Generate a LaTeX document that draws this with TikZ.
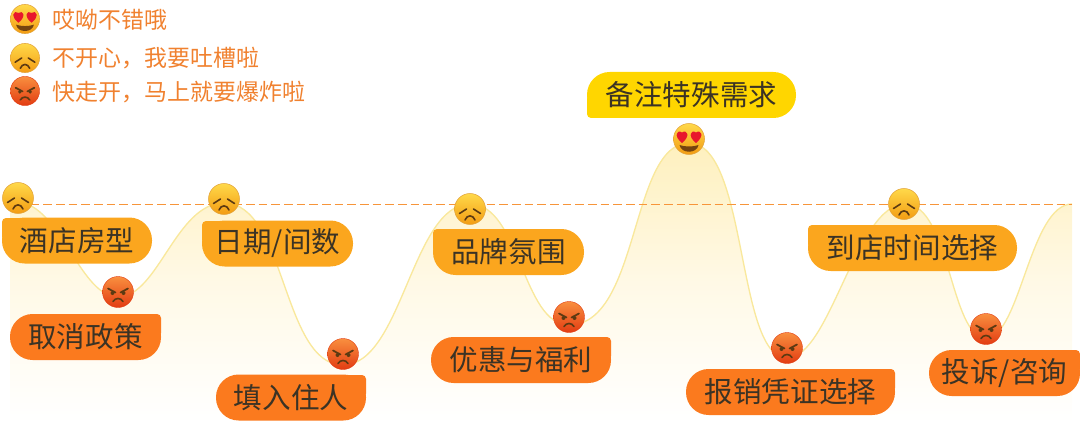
\documentclass[tikz,border=0pt]{standalone}
\usepackage{fontspec}
\setmainfont{Noto Sans CJK SC}
\usepackage{xcolor}

\definecolor{tagamber}{HTML}{FBA61E}
\definecolor{tagorange}{HTML}{FB7A1E}
\definecolor{tagyellow}{HTML}{FFD600}
\definecolor{tagtext}{HTML}{3B3325}
\definecolor{legendtext}{HTML}{F0812F}
\definecolor{hillline}{HTML}{F9E89C}
\definecolor{hilltop}{HTML}{FEF0BE}
\definecolor{hillmid}{HTML}{FFF9E6}
\definecolor{dashline}{HTML}{F7953A}
\definecolor{facebrown}{HTML}{5C3A12}
\definecolor{faceglow}{HTML}{FFD94A}
\definecolor{facegold}{HTML}{F39C12}
\definecolor{faceedge}{HTML}{E2A33A}
\definecolor{angrytop}{HTML}{F98F3F}
\definecolor{angrylow}{HTML}{E23C12}
\definecolor{heartred}{HTML}{E8172C}

\tikzset{
    tagnode/.style={inner sep=0pt,rounded corners=17pt,minimum height=34.5pt,text=tagtext,font=\fontsize{21.4}{24}\selectfont},
    legendnode/.style={anchor=west,inner sep=0pt,text=legendtext,font=\fontsize{17.2}{20}\selectfont},
    yellowface/.style={draw=faceedge,line width=0.4pt,top color=faceglow,bottom color=facegold},
    faceline/.style={draw=facebrown,line width=1.2pt,line cap=round},
    facesad/.pic={
        \path[yellowface] (0,0) circle (15.5);
        \draw[faceline] (-10.5,4.5) -- (-3.5,0);
        \draw[faceline] (10.5,4.5) -- (3.5,0);
        \draw[faceline] (-5,11) .. controls (-3,5.5) and (3,5.5) .. (5,11);
    },
    faceangry/.pic={
        \path[draw=angrylow,line width=0.3pt,top color=angrytop,bottom color=angrylow] (0,0) circle (15.5);
        \draw[faceline,line width=1.3pt] (-10,-3.5) -- (-2.5,0.5);
        \draw[faceline,line width=1.3pt] (10,-3.5) -- (2.5,0.5);
        \fill[facebrown] (-5.5,1) circle (2);
        \fill[facebrown] (5.5,1) circle (2);
        \draw[faceline,line width=1.2pt] (-5,9.5) .. controls (-3,5.5) and (3,5.5) .. (5,9.5);
    },
    facehappy/.pic={
        \path[yellowface] (0,0) circle (15.5);
        \fill[heartred] (-7,4) .. controls (-16,-3) and (-12,-10) .. (-7,-6.5) .. controls (-2,-10) and (2,-3) .. (-7,4) -- cycle;
        \fill[heartred] (7,4) .. controls (-2,-3) and (2,-10) .. (7,-6.5) .. controls (12,-10) and (16,-3) .. (7,4) -- cycle;
        \fill[facebrown!85!orange] (-9.5,6) .. controls (-5,8) and (5,8) .. (9.5,6) .. controls (8,15) and (-8,15) .. (-9.5,6) -- cycle;
    }
}

% name, centre, width, colour, square corner, text
\newcommand{\tagbox}[6]{
    \fill[#4,rounded corners=3pt,shift={(#2)}] (0,0) rectangle (#5);
    \node[tagnode,fill=#4,minimum width=#3*0.75pt] (#1) at (#2) {#6};
}

\newcommand{\hillcurve}{(10,204) .. controls (16,203) and (24,202) .. (33,207)
    .. controls (65,226) and (85,297) .. (118,297)
    .. controls (158,297) and (176,203) .. (224,203)
    .. controls (286,203) and (282,365) .. (343,365)
    .. controls (402,365) and (412,204) .. (470,204)
    .. controls (520,204) and (522,325) .. (569,325)
    .. controls (640,325) and (630,143) .. (689,143)
    .. controls (748,143) and (736,358) .. (787,358)
    .. controls (830,358) and (856,204) .. (905,204)
    .. controls (950,204) and (950,338) .. (986,338)
    .. controls (1020,338) and (1030,204) .. (1072,204)}

\begin{document}
\begin{tikzpicture}[x=0.75pt,y=-0.75pt]
    \useasboundingbox (0,0) rectangle (1080,431);
    % hill
    \shade[top color=hilltop,bottom color=white,middle color=hillmid] \hillcurve -- (1072,422) -- (10,422) -- cycle;
    \draw[hillline,line width=1pt] \hillcurve;
    \coordinate (dashstart) at (18,204.5);
    \coordinate (dashend) at (1072,204.5);
    \draw[dashline,line width=1.1pt,dash pattern=on 6.5pt off 3pt] (dashstart) -- (dashend);
    % legend
    \pic[scale=0.94] (legendhappy) at (25,19) {facehappy};
    \pic[scale=0.94] (legendsad) at (25,58) {facesad};
    \pic[scale=0.94] (legendangry) at (25,91) {faceangry};
    \node[legendnode] (legendone) at (52.5,20) {哎呦不错哦};
    \node[legendnode] (legendtwo) at (52.5,58) {不开心，我要吐槽啦};
    \node[legendnode] (legendthree) at (52.5,92) {快走开，马上就要爆炸啦};
    % tags
    \tagbox{roomtype}{77,240.5}{150}{tagamber}{-75,-22.5}{酒店房型}
    \tagbox{cancelrule}{85.5,337}{151}{tagorange}{75.5,-23}{取消政策}
    \tagbox{dateroom}{277.5,243.5}{151}{tagamber}{-75.5,-22.5}{日期/间数}
    \tagbox{guestname}{291,397.5}{150}{tagorange}{75,-22.5}{填入住人}
    \tagbox{brandmood}{508.5,252}{151}{tagamber}{-75.5,-23}{品牌氛围}
    \tagbox{discount}{521,360}{180}{tagorange}{90,-23}{优惠与福利}
    \tagbox{specialneed}{691.5,95}{209}{tagyellow}{-104.5,23}{备注特殊需求}
    \tagbox{receipt}{790.5,392}{209}{tagorange}{104.5,-23}{报销凭证选择}
    \tagbox{arrivetime}{912.5,248}{209}{tagamber}{-104.5,-23}{到店时间选择}
    \tagbox{complaint}{1004.5,373}{151}{tagorange}{75.5,-23}{投诉/咨询}
    % faces
    \pic (sadone) at (18,198) {facesad};
    \pic (angryone) at (118,292) {faceangry};
    \pic (sadtwo) at (224,199) {facesad};
    \pic (angrytwo) at (343,354) {faceangry};
    \pic (sadthree) at (470,209) {facesad};
    \pic (angrythree) at (569,317) {faceangry};
    \pic (happyone) at (689,139) {facehappy};
    \pic (angryfour) at (787,348) {faceangry};
    \pic (sadfour) at (904,204) {facesad};
    \pic (angryfive) at (986,329) {faceangry};
\end{tikzpicture}
\end{document}
